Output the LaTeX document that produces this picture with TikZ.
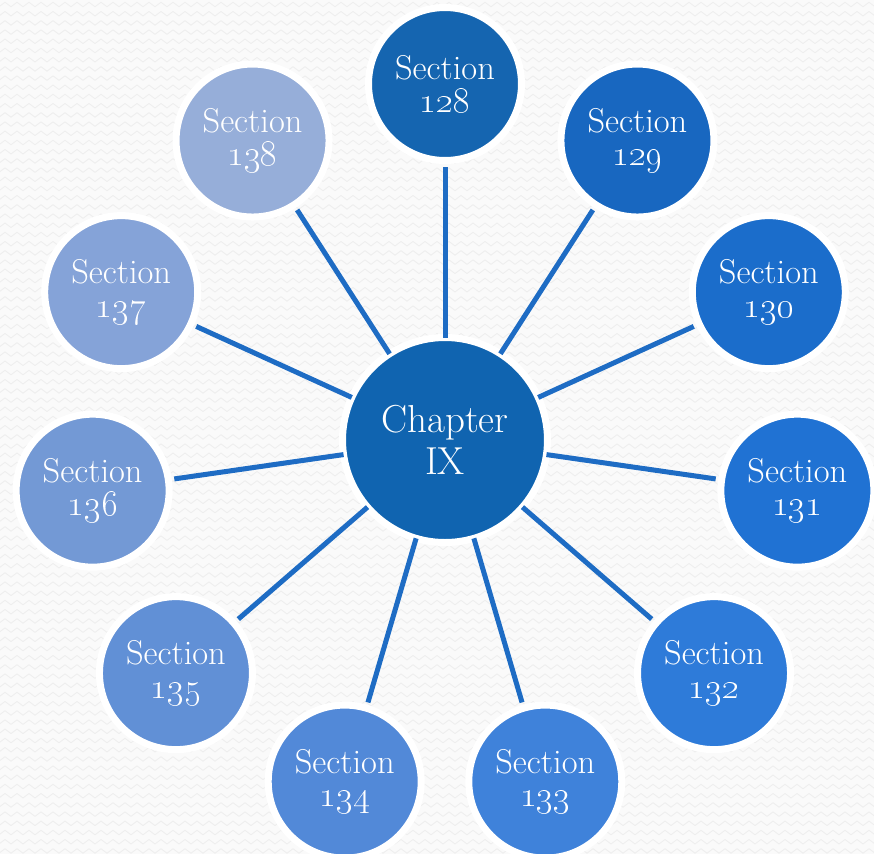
\documentclass[tikz,border=0pt]{standalone}
\usepackage{tikz}
\usetikzlibrary{calc,decorations.pathmorphing}
\definecolor{chapterblue}{RGB}{16,100,176}
\definecolor{spokeblue}{RGB}{30,108,196}
\definecolor{paperwhite}{RGB}{250,250,250}
\definecolor{paperzig}{RGB}{238,238,238}
\definecolor{sec128}{RGB}{21,101,176}
\definecolor{sec129}{RGB}{24,103,192}
\definecolor{sec130}{RGB}{27,109,203}
\definecolor{sec131}{RGB}{32,114,211}
\definecolor{sec132}{RGB}{46,123,217}
\definecolor{sec133}{RGB}{63,130,218}
\definecolor{sec134}{RGB}{82,137,216}
\definecolor{sec135}{RGB}{97,144,214}
\definecolor{sec136}{RGB}{115,153,213}
\definecolor{sec137}{RGB}{133,163,216}
\definecolor{sec138}{RGB}{150,174,217}

\begin{document}
\begin{tikzpicture}[line cap=round,line join=round,
  hub/.style={circle,fill=chapterblue,draw=white,line width=0.14cm,
   minimum size=4.1cm,inner sep=0pt,outer sep=0pt,text=white,align=center,
   font=\fontsize{22.2}{23.5}\selectfont},
  leaf/.style={circle,draw=white,line width=0.14cm,
   minimum size=3.06cm,inner sep=0pt,outer sep=0pt,text=white,align=center,
   font=\fontsize{19.6}{19}\selectfont},
  spoke/.style={spokeblue,line width=0.1cm,line cap=butt,shorten >=0.12cm},
  bgzig/.style={paperzig,line width=0.5pt,
   decorate,decoration={zigzag,segment length=0.24cm,amplitude=0.045cm}}]
 \useasboundingbox (0,0) rectangle (17.48,-17.08);
 % paper
 \fill[paperwhite] (0,0) rectangle (17.48,-17.08);
 \begin{scope}
  \clip (0,0) rectangle (17.48,-17.08);
  \foreach \r in {0,...,93}
   \draw[bgzig] (-0.2,-0.09-\r*0.184) -- (17.7,-0.09-\r*0.184);
 \end{scope}
 % centre
 \node[hub] (chapter) at (8.9,-8.8) {Chapter\\IX};
 % sections round it
 \foreach \n [count=\k from 0] in {128,...,138}
  \node[leaf,fill=sec\n] (s\n) at ($(chapter)+(90-\k*360/11:7.12)$)
   {Section\\\oldstylenums{\n}};
 \foreach \n in {128,...,138}
  \draw[spoke] (chapter) -- (s\n);
\end{tikzpicture}
\end{document}
